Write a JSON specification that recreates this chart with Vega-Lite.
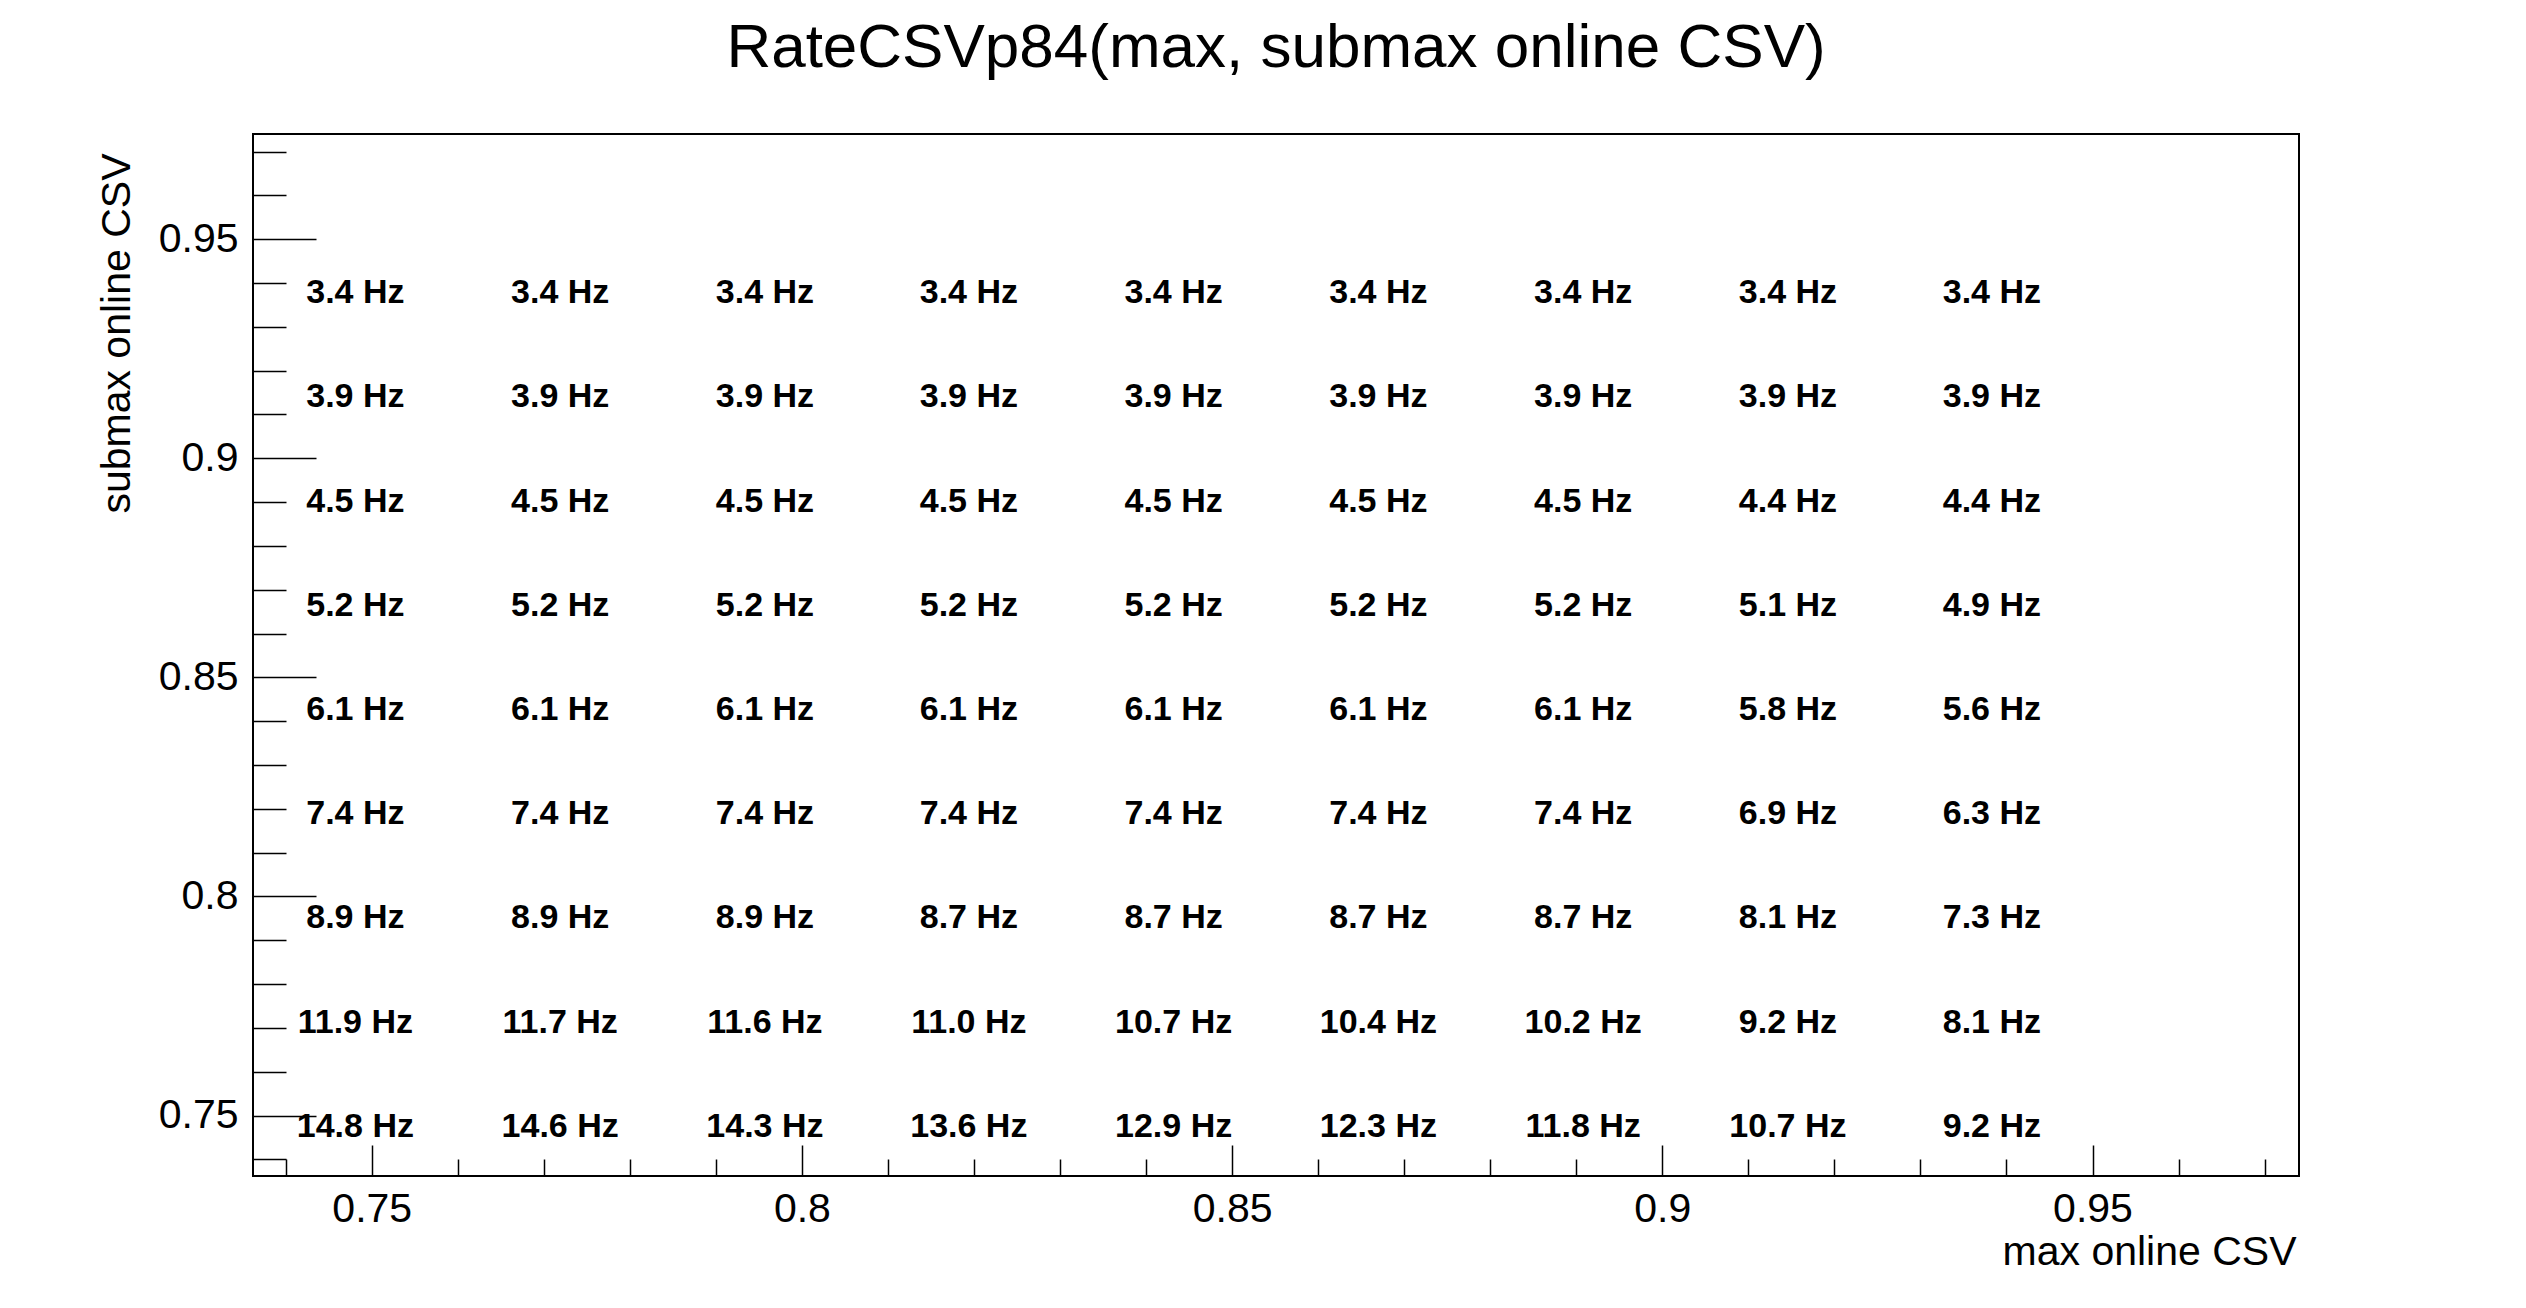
{
  "$schema": "https://vega.github.io/schema/vega-lite/v6.json",
  "autosize": {"type": "none"},
  "width": 2046,
  "height": 1042,
  "padding": {"left": 253, "top": 134, "right": 227, "bottom": 132},
  "background": "white",
  "title": {
    "text": "RateCSVp84(max, submax online CSV)",
    "font": "Liberation Sans",
    "fontSize": 62,
    "fontWeight": "normal",
    "color": "black",
    "anchor": "middle",
    "baseline": "alphabetic",
    "offset": 2
  },
  "config": {
    "view": {"stroke": "black", "strokeWidth": 2},
    "axis": {
      "domain": false,
      "grid": false,
      "labelFont": "Liberation Sans",
      "labelFontSize": 41,
      "labelColor": "black",
      "titleFont": "Liberation Sans",
      "titleFontSize": 41,
      "titleFontWeight": "normal",
      "titleColor": "black",
      "tickColor": "black",
      "tickWidth": 1.5
    }
  },
  "data": {
    "values": [
      {"max": 0.7481, "submax": 0.9383, "rate": 3.4},
      {"max": 0.7719, "submax": 0.9383, "rate": 3.4},
      {"max": 0.7957, "submax": 0.9383, "rate": 3.4},
      {"max": 0.8194, "submax": 0.9383, "rate": 3.4},
      {"max": 0.8432, "submax": 0.9383, "rate": 3.4},
      {"max": 0.867, "submax": 0.9383, "rate": 3.4},
      {"max": 0.8908, "submax": 0.9383, "rate": 3.4},
      {"max": 0.9146, "submax": 0.9383, "rate": 3.4},
      {"max": 0.9383, "submax": 0.9383, "rate": 3.4},
      {"max": 0.7481, "submax": 0.9146, "rate": 3.9},
      {"max": 0.7719, "submax": 0.9146, "rate": 3.9},
      {"max": 0.7957, "submax": 0.9146, "rate": 3.9},
      {"max": 0.8194, "submax": 0.9146, "rate": 3.9},
      {"max": 0.8432, "submax": 0.9146, "rate": 3.9},
      {"max": 0.867, "submax": 0.9146, "rate": 3.9},
      {"max": 0.8908, "submax": 0.9146, "rate": 3.9},
      {"max": 0.9146, "submax": 0.9146, "rate": 3.9},
      {"max": 0.9383, "submax": 0.9146, "rate": 3.9},
      {"max": 0.7481, "submax": 0.8908, "rate": 4.5},
      {"max": 0.7719, "submax": 0.8908, "rate": 4.5},
      {"max": 0.7957, "submax": 0.8908, "rate": 4.5},
      {"max": 0.8194, "submax": 0.8908, "rate": 4.5},
      {"max": 0.8432, "submax": 0.8908, "rate": 4.5},
      {"max": 0.867, "submax": 0.8908, "rate": 4.5},
      {"max": 0.8908, "submax": 0.8908, "rate": 4.5},
      {"max": 0.9146, "submax": 0.8908, "rate": 4.4},
      {"max": 0.9383, "submax": 0.8908, "rate": 4.4},
      {"max": 0.7481, "submax": 0.867, "rate": 5.2},
      {"max": 0.7719, "submax": 0.867, "rate": 5.2},
      {"max": 0.7957, "submax": 0.867, "rate": 5.2},
      {"max": 0.8194, "submax": 0.867, "rate": 5.2},
      {"max": 0.8432, "submax": 0.867, "rate": 5.2},
      {"max": 0.867, "submax": 0.867, "rate": 5.2},
      {"max": 0.8908, "submax": 0.867, "rate": 5.2},
      {"max": 0.9146, "submax": 0.867, "rate": 5.1},
      {"max": 0.9383, "submax": 0.867, "rate": 4.9},
      {"max": 0.7481, "submax": 0.8432, "rate": 6.1},
      {"max": 0.7719, "submax": 0.8432, "rate": 6.1},
      {"max": 0.7957, "submax": 0.8432, "rate": 6.1},
      {"max": 0.8194, "submax": 0.8432, "rate": 6.1},
      {"max": 0.8432, "submax": 0.8432, "rate": 6.1},
      {"max": 0.867, "submax": 0.8432, "rate": 6.1},
      {"max": 0.8908, "submax": 0.8432, "rate": 6.1},
      {"max": 0.9146, "submax": 0.8432, "rate": 5.8},
      {"max": 0.9383, "submax": 0.8432, "rate": 5.6},
      {"max": 0.7481, "submax": 0.8194, "rate": 7.4},
      {"max": 0.7719, "submax": 0.8194, "rate": 7.4},
      {"max": 0.7957, "submax": 0.8194, "rate": 7.4},
      {"max": 0.8194, "submax": 0.8194, "rate": 7.4},
      {"max": 0.8432, "submax": 0.8194, "rate": 7.4},
      {"max": 0.867, "submax": 0.8194, "rate": 7.4},
      {"max": 0.8908, "submax": 0.8194, "rate": 7.4},
      {"max": 0.9146, "submax": 0.8194, "rate": 6.9},
      {"max": 0.9383, "submax": 0.8194, "rate": 6.3},
      {"max": 0.7481, "submax": 0.7957, "rate": 8.9},
      {"max": 0.7719, "submax": 0.7957, "rate": 8.9},
      {"max": 0.7957, "submax": 0.7957, "rate": 8.9},
      {"max": 0.8194, "submax": 0.7957, "rate": 8.7},
      {"max": 0.8432, "submax": 0.7957, "rate": 8.7},
      {"max": 0.867, "submax": 0.7957, "rate": 8.7},
      {"max": 0.8908, "submax": 0.7957, "rate": 8.7},
      {"max": 0.9146, "submax": 0.7957, "rate": 8.1},
      {"max": 0.9383, "submax": 0.7957, "rate": 7.3},
      {"max": 0.7481, "submax": 0.7719, "rate": 11.9},
      {"max": 0.7719, "submax": 0.7719, "rate": 11.7},
      {"max": 0.7957, "submax": 0.7719, "rate": 11.6},
      {"max": 0.8194, "submax": 0.7719, "rate": 11.0},
      {"max": 0.8432, "submax": 0.7719, "rate": 10.7},
      {"max": 0.867, "submax": 0.7719, "rate": 10.4},
      {"max": 0.8908, "submax": 0.7719, "rate": 10.2},
      {"max": 0.9146, "submax": 0.7719, "rate": 9.2},
      {"max": 0.9383, "submax": 0.7719, "rate": 8.1},
      {"max": 0.7481, "submax": 0.7481, "rate": 14.8},
      {"max": 0.7719, "submax": 0.7481, "rate": 14.6},
      {"max": 0.7957, "submax": 0.7481, "rate": 14.3},
      {"max": 0.8194, "submax": 0.7481, "rate": 13.6},
      {"max": 0.8432, "submax": 0.7481, "rate": 12.9},
      {"max": 0.867, "submax": 0.7481, "rate": 12.3},
      {"max": 0.8908, "submax": 0.7481, "rate": 11.8},
      {"max": 0.9146, "submax": 0.7481, "rate": 10.7},
      {"max": 0.9383, "submax": 0.7481, "rate": 9.2}
    ]
  },
  "transform": [
    {"calculate": "format(datum.rate, '.1f') + ' Hz'", "as": "label"}
  ],
  "mark": {
    "type": "text",
    "font": "Liberation Sans",
    "fontWeight": "bold",
    "fontSize": 34,
    "color": "black",
    "align": "center",
    "baseline": "middle",
    "dy": 3
  },
  "encoding": {
    "x": {
      "field": "max",
      "type": "quantitative",
      "scale": {"domain": [0.7362, 0.974], "nice": false, "zero": false},
      "axis": {
        "orient": "bottom",
        "title": "max online CSV",
        "values": [0.74, 0.75, 0.76, 0.77, 0.78, 0.79, 0.8, 0.81, 0.82, 0.83, 0.84, 0.85, 0.86, 0.87, 0.88, 0.89, 0.9, 0.91, 0.92, 0.93, 0.94, 0.95, 0.96, 0.97],
        "labelExpr": "abs(datum.value*20 - round(datum.value*20)) < 0.001 ? toString(datum.value) : ''",
        "labelOverlap": false,
        "labelFlush": false,
        "tickSize": {"condition": {"test": "abs(datum.value*20 - round(datum.value*20)) < 0.001", "value": -31}, "value": -17},
        "labelPadding": 44,
        "titleAnchor": "end",
        "titleAlign": "right",
        "titleBaseline": "alphabetic",
        "titleX": 2043,
        "titleY": 88
      }
    },
    "y": {
      "field": "submax",
      "type": "quantitative",
      "scale": {"domain": [0.7362, 0.974], "nice": false, "zero": false},
      "axis": {
        "orient": "left",
        "title": "submax online CSV",
        "values": [0.74, 0.75, 0.76, 0.77, 0.78, 0.79, 0.8, 0.81, 0.82, 0.83, 0.84, 0.85, 0.86, 0.87, 0.88, 0.89, 0.9, 0.91, 0.92, 0.93, 0.94, 0.95, 0.96, 0.97],
        "labelExpr": "abs(datum.value*20 - round(datum.value*20)) < 0.001 ? toString(datum.value) : ''",
        "labelOverlap": false,
        "labelFlush": false,
        "tickSize": {"condition": {"test": "abs(datum.value*20 - round(datum.value*20)) < 0.001", "value": -63}, "value": -33},
        "labelPadding": 78,
        "titleAnchor": "end",
        "titleAlign": "right",
        "titleAngle": -90,
        "titleBaseline": "alphabetic",
        "titleX": -124,
        "titleY": 19
      }
    },
    "text": {"field": "label", "type": "nominal"}
  }
}
